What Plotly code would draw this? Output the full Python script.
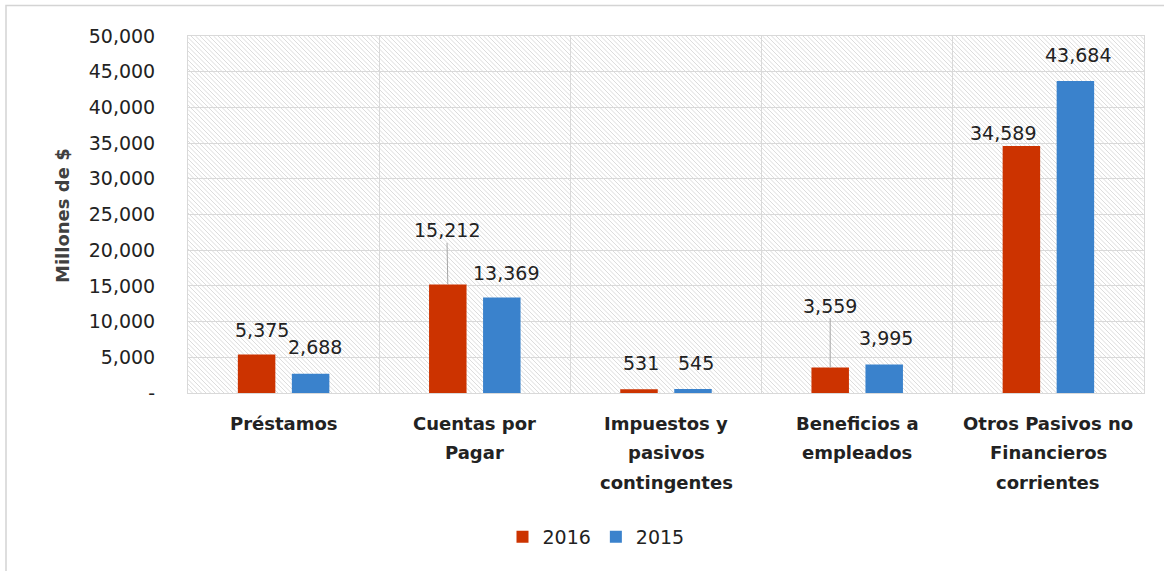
import plotly.graph_objects as go

# Current liabilities by category, millions of $
categories = [
    "Préstamos",
    "Cuentas por\nPagar",
    "Impuestos y\npasivos\ncontingentes",
    "Beneficios a\nempleados",
    "Otros Pasivos no\nFinancieros\ncorrientes",
]
values_2016 = [5375, 15212, 531, 3559, 34589]
values_2015 = [2688, 13369, 545, 3995, 43684]
series_names = ["2016", "2015"]
y_tickvals = [0, 5000, 10000, 15000, 20000, 25000, 30000, 35000, 40000, 45000, 50000]
y_ticktext = ["-", "5,000", "10,000", "15,000", "20,000", "25,000", "30,000",
              "35,000", "40,000", "45,000", "50,000"]

RED = "#CC3300"
BLUE = "#3A82CC"
GRID = "#D9D9D9"
TEXT = "#222222"
FONT = "DejaVu Sans"

W_PX, H_PX = 1164, 571
M_L, M_R, M_T, M_B = 188, 20, 36, 178
PLOT_W = W_PX - M_L - M_R
PLOT_H = H_PX - M_T - M_B

keys = [c.replace("\n", " ") for c in categories]

fig = go.Figure()
fig.add_trace(go.Bar(name=series_names[0], x=keys, y=values_2016,
                     marker=dict(color=RED, line=dict(width=0))))
fig.add_trace(go.Bar(name=series_names[1], x=keys, y=values_2015,
                     marker=dict(color=BLUE, line=dict(width=0))))

# Diagonal hatching behind the plot area, as one clipped path
step = 4.5
segs = []
c = -PLOT_H
while c <= PLOT_W:
    py0 = max(0, -c)
    py1 = min(PLOT_H, PLOT_W - c)
    if py1 > py0:
        x0, y0 = (c + py0) / PLOT_W, 1 - py0 / PLOT_H
        x1, y1 = (c + py1) / PLOT_W, 1 - py1 / PLOT_H
        segs.append(f"M{x0:.5f},{y0:.5f}L{x1:.5f},{y1:.5f}")
    c += step
fig.add_shape(type="path", path="".join(segs), xref="paper", yref="paper",
              line=dict(color="#D3D3D3", width=0.8), layer="below")

# Outer chart frame
fig.add_shape(type="rect", xref="paper", yref="paper",
              x0=(6 - M_L) / PLOT_W, x1=1.2,
              y0=-1.0, y1=(PLOT_H + M_T - 5.5) / PLOT_H,
              line=dict(color="#D4D4D4", width=1.5), layer="below")

# Value labels: (series index, category index, dx, dy, leader line)
bar_shift = 27
label_specs = [
    (0, 0, 5, -25, False),
    (1, 0, 4, -27, False),
    (0, 1, -1, -54, True),
    (1, 1, 4, -25, False),
    (0, 2, 2, -26, False),
    (1, 2, 3, -26, False),
    (0, 3, 0, -62, True),
    (1, 3, 2, -26, False),
    (0, 4, -18, -13, False),
    (1, 4, 3, -26, False),
]
series_vals = [values_2016, values_2015]
for s, i, dx, dy, leader in label_specs:
    v = series_vals[s][i]
    shift = -bar_shift if s == 0 else bar_shift
    if leader:
        fig.add_annotation(x=keys[i], y=v, xref="x", yref="y", text=f"{v:,}",
                           showarrow=True, arrowhead=0, arrowwidth=1,
                           arrowcolor="#A6A6A6", ax=dx, ay=dy, standoff=0,
                           xshift=shift, font=dict(family=FONT, size=19, color=TEXT))
    else:
        fig.add_annotation(x=keys[i], y=v, xref="x", yref="y", text=f"{v:,}",
                           showarrow=False, xshift=shift + dx, yshift=-dy,
                           yanchor="middle",
                           font=dict(family=FONT, size=19, color=TEXT))

# Category labels, one line at a time
line_gap = 29.5
for i, cat in enumerate(categories):
    for j, line in enumerate(cat.split("\n")):
        fig.add_annotation(x=keys[i], y=0, xref="x", yref="paper", text=f"<b>{line}</b>",
                           showarrow=False, yanchor="middle",
                           yshift=-(30 + j * line_gap),
                           font=dict(family=FONT, size=18, color=TEXT))

# Y axis title
fig.add_annotation(x=(62 - M_L) / PLOT_W, y=(393 - 215) / PLOT_H,
                   xref="paper", yref="paper",
                   text="<b>Millones de $</b>", textangle=-90, showarrow=False,
                   xanchor="center", yanchor="middle",
                   font=dict(family=FONT, size=18, color="#404040"))

fig.update_layout(
    width=W_PX, height=H_PX,
    margin=dict(l=M_L, r=M_R, t=M_T, b=M_B, pad=0),
    paper_bgcolor="white", plot_bgcolor="rgba(0,0,0,0)",
    barmode="group", bargap=0.435, bargroupgap=0.306,
    font=dict(family=FONT, size=19, color=TEXT),
    showlegend=True,
    legend=dict(orientation="h", x=(596 - M_L) / PLOT_W, xanchor="center",
                y=(M_T + PLOT_H - 537) / PLOT_H, yanchor="middle",
                font=dict(family=FONT, size=19, color=TEXT),
                bgcolor="rgba(0,0,0,0)"),
    xaxis=dict(type="category", tickson="boundaries", showgrid=True,
               gridcolor=GRID, gridwidth=1, showticklabels=False, ticks="",
               showline=True, linecolor=GRID, linewidth=1, mirror=True,
               range=[-0.5, 4.5], fixedrange=True),
    yaxis=dict(range=[0, 50000], tickvals=y_tickvals, ticktext=y_ticktext,
               showgrid=True, gridcolor=GRID, gridwidth=1, zeroline=False,
               showline=True, linecolor=GRID, linewidth=1, mirror=True,
               ticks="", ticklabelstandoff=28,
               tickfont=dict(family=FONT, size=19, color=TEXT)),
)

fig.write_html("out.html")
